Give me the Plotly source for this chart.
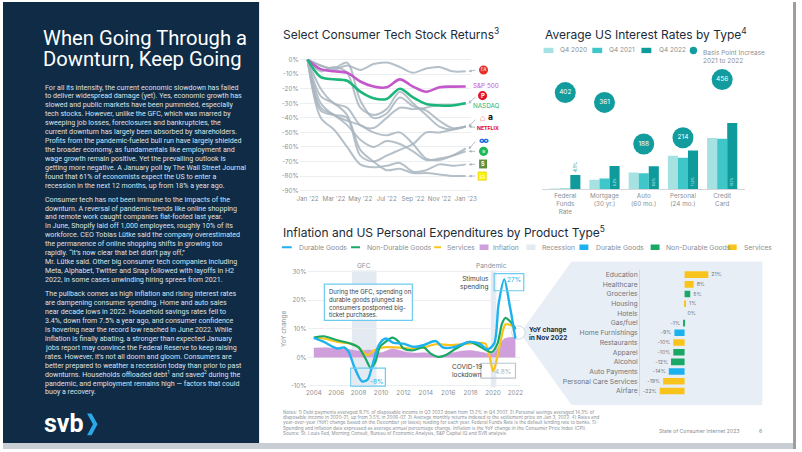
import plotly.graph_objects as go

W, H = 802, 452
def px(x): return x / W
def py(y): return 1 - y / H

FONT = "Inter"
BODY = "Roboto"
GRAY = "#8a8f94"
DARK = "#1c2b3a"

# ---------------- data ----------------
stock_months = list(range(13))
stock_ticks = ["Jan '22", "Mar '22", "May '22", "Jul '22", "Sep '22", "Nov '22", "Jan '23"]
stock_yticks = [0, -10, -20, -30, -40, -50, -60, -70, -80, -90]
sp500 = [0, -6.5, -8, -9, -15, -18.5, -19, -13.5, -18.5, -22, -19, -18.5, -18.4]
nasdaq = [0, -12, -13.5, -14.5, -22, -26.5, -27, -20, -26, -30.5, -31.5, -31.5, -30]
ea = [0, -4, -7, -4, -7, -3, -2, -5, -9, -6, -5, -8, -8]
pinterest = [0, -20, -30, -33, -45, -47, -40, -33, -34, -33, -31, -31, -30]
airbnb = [0, -4, -6, -2, -28, -40, -37, -26, -32, -35, -42, -47, -46]
amazon = [0, -8, -5, -9, -33, -38, -34, -22, -30, -38, -46, -48, -46]
netflix = [0, -35, -38, -40, -66, -70, -66, -62, -58, -50, -50, -48, -46]
meta = [0, -30, -38, -42, -45, -50, -52, -50, -58, -68, -69, -66, -61]
spotify = [0, -33, -38, -45, -55, -60, -56, -58, -63, -69, -68, -66, -63]
shopify = [0, -40, -48, -60, -72, -74, -73, -71, -77, -76, -72, -73, -72]
snap = [0, -25, -30, -38, -62, -70, -76, -75, -78, -78, -79, -80, -80]
gray_stocks = [ea, pinterest, airbnb, amazon, netflix, meta, spotify, shopify, snap]

rate_cats = ["Federal<br>Funds<br>Rate", "Mortgage<br>(30 yr.)", "Auto<br>(60 mo.)", "Personal<br>(24 mo.)", "Credit<br>Card"]
q4_2020 = [0.1, 2.7, 4.8, 9.7, 14.8]
q4_2021 = [0.1, 3.1, 4.6, 9.1, 14.6]
q4_2022 = [4.1, 6.7, 6.6, 11.2, 19.1]
bp_increase = [402, 361, 188, 214, 456]

durable_x = [2004, 2004.9, 2006.1, 2006.7, 2007.1, 2007.6, 2008.3, 2008.8, 2009.2, 2009.8, 2010.4, 2011.1, 2012.0, 2012.9, 2013.8, 2014.9, 2015.5, 2016.4, 2017.9, 2018.8, 2019.5, 2020.1, 2020.5, 2021.0, 2021.5, 2022.0]
durable_y = [6.8, 5.4, 3.1, 3.5, 2.0, -3.2, -8.4, -7.8, -3.2, 4.3, 6.6, 5.1, 4.8, 3.7, 4.3, 5.7, 3.5, 3.5, 5.4, 4.8, 2.8, 4.8, 18.7, 27.3, 18.0, 6.6]
nondurable_x = [2004, 2004.9, 2006.1, 2007.3, 2008.0, 2008.6, 2009.1, 2009.5, 2009.9, 2010.4, 2011.0, 2011.6, 2012.0, 2012.9, 2013.8, 2014.4, 2015.1, 2015.8, 2016.7, 2017.9, 2018.6, 2019.4, 2019.9, 2020.4, 2020.8, 2021.1, 2021.6, 2022.0]
nondurable_y = [6.9, 7.4, 6.0, 4.8, 3.5, -0.3, -3.8, -1.5, 3.7, 5.4, 6.9, 5.4, 3.1, 2.5, 3.5, 1.4, 0.2, 0.8, 3.1, 5.4, 4.3, 2.5, 1.8, 4.8, 11.8, 13.8, 12.3, 10.0]
services_x = [2004, 2004.9, 2006.1, 2007.3, 2008.0, 2008.8, 2009.4, 2010.2, 2011.4, 2012.6, 2013.8, 2014.9, 2016.1, 2017.3, 2018.5, 2019.3, 2019.7, 2020.0, 2020.2, 2020.7, 2021.1, 2021.6, 2022.0]
services_y = [6.9, 6.6, 5.4, 4.8, 3.5, 0.8, 2.5, 3.5, 3.5, 3.1, 3.5, 4.6, 4.3, 4.6, 5.1, 4.8, 0.2, -4.8, -3.0, 6.0, 11.5, 11.2, 9.5]
inflation_x = list(range(2004, 2023))
inflation_y = [3.3, 3.4, 3.2, 2.9, 2.2, 2.6, 1.6, 3.0, 2.1, 1.5, 1.6, 0.2, 1.3, 2.1, 2.4, 1.8, 1.3, 6.5, 7.1]
recessions = [("GFC", 2007.4, 2009.6), ("Pandemic", 2019.8, 2020.3)]
year_ticks = list(range(2004, 2023, 2))
pce_yticks = [-10, 0, 10, 20, 30]

nov_cats = ["Education", "Healthcare", "Groceries", "Housing", "Hotels", "Gas/fuel", "Home Furnishings",
            "Restaurants", "Apparel", "Alcohol", "Auto Payments", "Personal Care Services", "Airfare"]
nov_vals = [21, 8, 5, 1, 0, -1, -9, -10, -10, -12, -14, -19, -22]
nov_type = ["Services", "Services", "Non-Durable Goods", "Services", "Services", "Non-Durable Goods",
            "Durable Goods", "Services", "Non-Durable Goods", "Non-Durable Goods", "Durable Goods",
            "Services", "Services"]

title_lines = ["When Going Through a", "Downturn, Keep Going"]
para1 = ["For all its intensity, the current economic slowdown has failed",
         "to deliver widespread damage (yet). Yes, economic growth has",
         "slowed and public markets have been pummeled, especially",
         "tech stocks. However, unlike the GFC, which was marred by",
         "sweeping job losses, foreclosures and bankruptcies, the",
         "current downturn has largely been absorbed by shareholders.",
         "Profits from the pandemic-fueled bull run have largely shielded",
         "the broader economy, as fundamentals like employment and",
         "wage growth remain positive. Yet the prevailing outlook is",
         "getting more negative. A January poll by The Wall Street Journal",
         "found that 61% of economists expect the US to enter a",
         "recession in the next 12 months, up from 18% a year ago."]
para2 = ["Consumer tech has not been immune to the impacts of the",
         "downturn. A reversal of pandemic trends like online shopping",
         "and remote work caught companies flat-footed last year.",
         "In June, Shopify laid off 1,000 employees, roughly 10% of its",
         "workforce. CEO Tobias Lütke said the company overestimated",
         "the permanence of online shopping shifts in growing too",
         "rapidly. “It’s now clear that bet didn’t pay off,”",
         "Mr. Lütke said. Other big consumer tech companies including",
         "Meta, Alphabet, Twitter and Snap followed with layoffs in H2",
         "2022, in some cases unwinding hiring sprees from 2021."]
para3 = ["The pullback comes as high inflation and rising interest rates",
         "are dampening consumer spending. Home and auto sales",
         "near decade lows in 2022. Household savings rates fell to",
         "3.4%, down from 7.5% a year ago, and consumer confidence",
         "is hovering near the record low reached in June 2022. While",
         "inflation is finally abating, a stronger than expected January",
         "jobs report may convince the Federal Reserve to keep raising",
         "rates. However, it’s not all doom and gloom. Consumers are",
         "better prepared to weather a recession today than prior to past",
         "downturns. Households offloaded debt<sup>1</sup> and saved<sup>2</sup> during the",
         "pandemic, and employment remains high — factors that could",
         "buoy a recovery."]
notes = ["Notes: 1) Debt payments averaged 9.7% of disposable income in Q3 2022 down from 13.2% in Q4 2007. 2) Personal savings averaged 14.3% of",
         "disposable income in 2020-21, up from 3.5% in 2006-07. 3) Average monthly returns indexed to the settlement price on Jan 3, 2022. 4) Rates and",
         "year-over-year (YoY) change based on the December (or latest) reading for each year. Federal Funds Rate is the default lending rate to banks. 5)",
         "Spending and inflation data expressed as average annual percentage change. Inflation is the YoY change in the Consumer Price Index (CPI).",
         "Source: St. Louis Fed, Morning Consult, Bureau of Economic Analysis, S&P Capital IQ and SVB analysis."]

# ---------------- colors ----------------
C_DUR = "#1db1ee"
C_NON = "#19a865"
C_SVC = "#f8c41b"
C_INF = "#cf9fdc"
C_REC = "#e4eaf2"
C_SP = "#c457cc"
C_NQ = "#1db67a"
C_GRAYLINE = "#aab6c0"
TEALS = ["#a6e2e2", "#3fc6c8", "#0f9b9c"]
C_CIRCLE = "#129c9d"
type_color = {"Services": C_SVC, "Non-Durable Goods": C_NON, "Durable Goods": C_DUR}

fig = go.Figure()

# chart 1
for s in gray_stocks:
    fig.add_trace(go.Scatter(x=stock_months, y=s, mode="lines", line=dict(color=C_GRAYLINE, width=2, shape="spline", smoothing=0.9),
                             opacity=0.85, hoverinfo="skip", showlegend=False, xaxis="x", yaxis="y"))
fig.add_trace(go.Scatter(x=stock_months, y=sp500, mode="lines", line=dict(color=C_SP, width=2.6, shape="spline", smoothing=0.9),
                         showlegend=False, xaxis="x", yaxis="y"))
fig.add_trace(go.Scatter(x=stock_months, y=nasdaq, mode="lines", line=dict(color=C_NQ, width=2.6, shape="spline", smoothing=0.9),
                         showlegend=False, xaxis="x", yaxis="y"))

# chart 2
for vals, col, nm in zip([q4_2020, q4_2021, q4_2022], TEALS, ["Q4 2020", "Q4 2021", "Q4 2022"]):
    kw = {}
    if nm == "Q4 2022":
        kw = dict(text=[f"{v}%" for v in vals], textangle=-90,
                  textposition=["outside", "inside", "inside", "inside", "inside"],
                  insidetextanchor="start",
                  textfont=dict(family=FONT, size=6.5, color=[C_CIRCLE, "#dff5f5", "#dff5f5", "#dff5f5", "#dff5f5"]),
                  cliponaxis=False)
    fig.add_trace(go.Bar(x=rate_cats, y=vals, marker=dict(color=col, line=dict(width=0)), name=nm,
                         showlegend=False, xaxis="x2", yaxis="y2", **kw))
fig.add_trace(go.Scatter(x=rate_cats, y=bp_increase, mode="markers+text", text=[str(v) for v in bp_increase],
                         textposition="middle center", textfont=dict(family=FONT, size=6.5, color="white"),
                         marker=dict(size=21, color=C_CIRCLE), showlegend=False, xaxis="x2", yaxis="y3", cliponaxis=False))

# chart 3
fig.add_trace(go.Scatter(x=inflation_x, y=inflation_y, mode="lines", fill="tozeroy", fillcolor=C_INF,
                         line=dict(color=C_INF, width=0.5, shape="spline", smoothing=0.6), showlegend=False,
                         xaxis="x4", yaxis="y4"))
fig.add_trace(go.Scatter(x=services_x, y=services_y, mode="lines", line=dict(color=C_SVC, width=2.2, shape="spline", smoothing=0.8),
                         showlegend=False, xaxis="x4", yaxis="y4"))
fig.add_trace(go.Scatter(x=nondurable_x, y=nondurable_y, mode="lines", line=dict(color=C_NON, width=2.2, shape="spline", smoothing=0.8),
                         showlegend=False, xaxis="x4", yaxis="y4"))
fig.add_trace(go.Scatter(x=durable_x, y=durable_y, mode="lines", line=dict(color=C_DUR, width=2.4, shape="spline", smoothing=0.8),
                         showlegend=False, xaxis="x4", yaxis="y4"))

# chart 4
fig.add_trace(go.Bar(y=nov_cats, x=nov_vals, orientation="h", marker=dict(color=[type_color[t] for t in nov_type], line=dict(width=0)),
                     text=[f"{v}%" for v in nov_vals], textposition="outside", cliponaxis=False, width=0.68,
                     textfont=dict(family=FONT, size=6.3, color="#6f757a"),
                     showlegend=False, xaxis="x5", yaxis="y5"))

# ---------------- shapes ----------------
shapes = []
def rect(x0, y0, x1, y1, fill, line=None, lw=0, layer="below"):
    shapes.append(dict(type="rect", xref="paper", yref="paper", x0=px(x0), x1=px(x1), y0=py(y1), y1=py(y0),
                       fillcolor=fill, line=dict(color=line or fill, width=lw), layer=layer))

rect(0, 0, 259, 446, "#0f2b46")
rect(0, 446, 802, 452, "#c9ced4")
rect(799, 0, 802, 452, "#9a9ea3")

poly = [(575, 262.5), (768, 262.5), (768, 407.5), (575, 407.5), (523, 335)]
path = "M " + " L ".join(f"{px(a):.5f},{py(b):.5f}" for a, b in poly) + " Z"
shapes.append(dict(type="path", xref="paper", yref="paper", path=path, fillcolor="#e8eef5", line=dict(width=0), layer="below"))
shapes.append(dict(type="circle", xref="paper", yref="paper", x0=px(514.5), x1=px(528), y0=py(341), y1=py(327.5),
                   fillcolor="white", line=dict(color="#d2dae2", width=1), layer="below"))

chev = [(85, 416), (89.6, 416), (95.6, 427), (89.6, 438), (85, 438), (91, 427)]
path = "M " + " L ".join(f"{px(a):.5f},{py(b):.5f}" for a, b in chev) + " Z"
shapes.append(dict(type="path", xref="paper", yref="paper", path=path, fillcolor="#2aa9e6", line=dict(width=0), layer="above"))

for nm, a, b in recessions:
    shapes.append(dict(type="rect", xref="x4", yref="y4", x0=a, x1=b, y0=-10.5, y1=30.5, fillcolor=C_REC,
                       line=dict(width=0), layer="below"))

def box(x0, y0, x1, y1, col, fill="rgba(0,0,0,0)"):
    shapes.append(dict(type="rect", xref="paper", yref="paper", x0=px(x0), x1=px(x1), y0=py(y1), y1=py(y0),
                       fillcolor=fill, line=dict(color=col, width=1.2), layer="above"))
box(325, 285.3, 414, 322, "#6ccbee", fill="rgba(255,255,255,0.85)")
box(351.7, 370.3, 386.7, 388.5, "#6ccbee")
box(496.7, 274.7, 526.7, 292, "#6ccbee")
box(483.3, 365.3, 518.3, 380.3, "#b9c5cf")

for x0, col in zip([546.7, 596, 645.7], TEALS):
    rect(x0, 46.3, x0 + 10, 51.7, col, layer="above")
shapes.append(dict(type="circle", xref="paper", yref="paper", x0=px(694.5), x1=px(702), y0=py(52.8), y1=py(45.3),
                   fillcolor=C_CIRCLE, line=dict(width=0)))
for x0, x1, col in [(282, 292, C_DUR), (352, 361, C_NON), (436, 443, C_SVC)]:
    shapes.append(dict(type="line", xref="paper", yref="paper", x0=px(x0), x1=px(x1), y0=py(248), y1=py(248),
                       line=dict(color=col, width=2)))
for x0, col in [(482, C_INF), (529.5, C_REC), (583, C_DUR), (655, C_NON), (733, C_SVC)]:
    rect(x0, 245.2, x0 + 9, 250.8, col, layer="above")

# ---------------- annotations ----------------
ann = []
def text(x, y, t, size=7, color=DARK, xanchor="left", yanchor="middle", family=FONT, angle=0, align="left", **kw):
    ann.append(dict(x=px(x), y=py(y), xref="paper", yref="paper", text=t, showarrow=False, xanchor=xanchor,
                    yanchor=yanchor, textangle=angle, align=align,
                    font=dict(size=size, color=color, family=family), **kw))

text(39.5, 36.5, title_lines[0], size=20.2, color="white", family=BODY, borderpad=0)
text(39.5, 57.3, title_lines[1], size=20.2, color="white", family=BODY, borderpad=0)
for lines, y0 in [(para1, 86), (para2, 199.3), (para3, 295)]:
    for i, line in enumerate(lines):
        text(40.5, y0 + i * 9.03, line, size=7.1, color="#dbe2ea", family=BODY)
text(39, 426, "<b>svb</b>", size=25, color="white", family=BODY)

text(281.5, 32.5, "Select Consumer Tech Stock Returns<sup>3</sup>", size=12)
text(546, 32.5, "Average US Interest Rates by Type<sup>4</sup>", size=12)
text(281.5, 232.5, "Inflation and US Personal Expenditures by Product Type<sup>5</sup>", size=12)

for x, t in [(561.7, "Q4 2020"), (611, "Q4 2021"), (661, "Q4 2022")]:
    text(x, 49, t, size=6.5, color=GRAY)
text(705.5, 45, "Basis Point Increase<br>2021 to 2022", size=6.5, color=GRAY, yanchor="top")

for x, t in [(297, "Durable Goods"), (366, "Non-Durable Goods"), (447, "Services"), (494, "Inflation"),
             (543, "Recession"), (597.5, "Durable Goods"), (668, "Non-Durable Goods"), (747, "Services")]:
    text(x, 248, t, size=6.8, color=GRAY)

text(473, 85.3, "S&P 500", size=6.3, color=C_SP)
text(473, 104.7, "NASDAQ", size=6.3, color=C_NQ)
icons_circ = [(486, 68.7, "#e4322b", "EA", 4.2), (485, 94.7, "#e0142c", "<b>P</b>", 6), (486, 151, "#1db954", "<b>≡</b>", 5.5)]
for cx, cy, col, t, fs in icons_circ:
    shapes.append(dict(type="circle", xref="paper", yref="paper", x0=px(cx - 4.6), x1=px(cx + 4.6), y0=py(cy + 4.6), y1=py(cy - 4.6),
                       fillcolor=col, line=dict(width=0)))
    text(cx, cy, t, size=fs, color="white", xanchor="center")
text(484.5, 117, "⌂", size=9, color="#ff5a5f", xanchor="center")
text(493.5, 116.5, "<b>a</b>", size=8.5, color="#111", xanchor="center")
text(491, 127.3, "<b>NETFLIX</b>", size=5.2, color="#e50914", xanchor="center")
text(486, 139.7, "<b>∞</b>", size=10, color="#0866e0", xanchor="center")
rect(481.5, 159.3, 489.5, 168.3, "#5e8e3e", layer="above")
text(485.5, 164, "<b>S</b>", size=5.5, color="white", xanchor="center")
rect(480.5, 171.8, 488.8, 180.2, "#fff200", line="#d8cc00", lw=0.6, layer="above")
text(484.6, 176, "ᗣ", size=6, color="white", xanchor="center")

ends = [(70.1, 68.7), (102.4, 94.7), (126, 117.5), (126, 127), (148.7, 139.7), (151, 151), (164.2, 164), (176, 176)]
for ly, iy in ends:
    ann.append(dict(x=px(471), y=py(ly), xref="paper", yref="paper", ax=8, ay=iy - ly,
                    text="", showarrow=True, arrowhead=2, arrowsize=0.7, arrowwidth=0.8, arrowcolor="#a3adb6"))

text(365, 267, "GFC", size=6.5, color=GRAY, xanchor="center")
text(494, 267, "Pandemic", size=6.5, color=GRAY, xanchor="center")
text(327.5, 287.5, "During the GFC, spending on<br>durable goods plunged as<br>consumers postponed big-<br>ticket purchases.",
     size=6, color="#3a3f44", yanchor="top")
text(386, 384.5, "-8%", size=6.5, color=C_DUR, xanchor="right")
text(525.5, 281.5, "27%", size=6.5, color=C_DUR, xanchor="right")
text(515.5, 374.5, "-4.8%", size=6.5, color="#a8b0b8", xanchor="right")
text(493.5, 284, "Stimulus<br>spending", size=6.5, color="#3a3f44", xanchor="right", align="right")
text(451.7, 373, "COVID-19<br>lockdown", size=6.5, color="#3a3f44")
text(285, 330, "YoY change", size=6.5, color=GRAY, xanchor="center", angle=-90)
text(530, 336, "<b>YoY change<br>in Nov 2022</b>", size=6.5, color=DARK)

for i, line in enumerate(notes):
    text(281.5, 415 + i * 5.35, line, size=4.6, color="#8a9096")
text(661.5, 434, "State of Consumer Internet 2023", size=5.2, color="#8a9096")
text(763, 434, "6", size=5.2, color="#8a9096")

# ---------------- layout ----------------
tickfont = dict(family=FONT, size=6.3, color=GRAY)
grid = "#eceff2"
fig.update_layout(
    width=W, height=H, margin=dict(l=0, r=0, t=0, b=0),
    paper_bgcolor="white", plot_bgcolor="rgba(0,0,0,0)",
    font=dict(family=FONT), showlegend=False, barmode="group",
    shapes=shapes, annotations=ann,
    xaxis=dict(domain=[px(300), px(473)], range=[-0.6, 12.375], tickvals=list(range(0, 13, 2)), ticktext=stock_ticks,
               showgrid=False, zeroline=False, showline=False, tickfont=tickfont, ticks=""),
    yaxis=dict(domain=[py(193.6), py(55.4)], range=[-92, 2], tickvals=stock_yticks,
               ticktext=[f"{v}%" for v in stock_yticks],
               showgrid=True, gridcolor=grid, gridwidth=0.8, zeroline=False, tickfont=tickfont, ticks=""),
    xaxis2=dict(domain=[px(545.1), px(750.9)], anchor="y2", showgrid=False, zeroline=False, showline=True,
                linecolor="#d3d6d9", linewidth=1, tickfont=tickfont, ticks=""),
    yaxis2=dict(domain=[py(189.3), py(70.3)], anchor="x2", range=[0, 34], visible=False),
    yaxis3=dict(overlaying="y2", anchor="x2", range=[0, 34 * 14.4], visible=False),
    bargap=0.23, bargroupgap=0,
    xaxis4=dict(domain=[px(308), px(523)], anchor="y4", range=[2003.44, 2022.42], tickvals=year_ticks,
                showgrid=False, zeroline=False, tickfont=tickfont, ticks=""),
    yaxis4=dict(domain=[py(389.7), py(271.25)], anchor="x4", range=[-10.5, 30.5], tickvals=pce_yticks,
                ticktext=[f"{v}%" for v in pce_yticks],
                showgrid=True, gridcolor=grid, gridwidth=0.8, zeroline=False, tickfont=tickfont, ticks=""),
    xaxis5=dict(domain=[px(644.3), px(768)], anchor="y5", range=[-39.4, 68.85], visible=False),
    yaxis5=dict(domain=[py(398.2), py(270.8)], anchor="x5", autorange="reversed", showline=True, linecolor="#d3d6d9",
                linewidth=1, showgrid=False, zeroline=False, ticks="", tickfont=dict(family=FONT, size=6.8, color="#6f757a")),
)

fig.write_html("out.html", config={"displayModeBar": False},
               post_script="document.body.style.margin='0';document.body.style.overflow='hidden';")
